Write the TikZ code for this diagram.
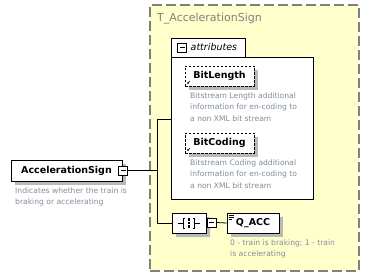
\documentclass[tikz,border=0pt]{standalone}
\usepackage{fontspec}
\setmainfont{DejaVu Sans}
\usetikzlibrary{positioning, shapes.misc, shadows, arrows.meta}
\definecolor{typeyellow}{RGB}{255,255,204}
\definecolor{framegray}{RGB}{128,128,128}
\definecolor{notegray}{RGB}{128,140,155}
\definecolor{shadowgray}{RGB}{185,185,185}

\begin{document}
\begin{tikzpicture}[x=1pt, y=-1pt,
    typebox/.style={rectangle, draw=framegray, fill=typeyellow, line width=1.2pt, dash pattern=on 10pt off 4pt, inner sep=0pt},
    group/.style={rectangle, draw, fill=white, line width=0.9pt, inner sep=0pt},
    element/.style={rectangle, draw, fill=white, line width=0.9pt, inner sep=0pt, minimum height=20pt, font=\fontsize{9.5}{12}\selectfont\bfseries, general shadow={fill=shadowgray, shadow xshift=4pt, shadow yshift=-4pt}},
    attribute/.style={element, line width=0.8pt, dash pattern=on 2.5pt off 1.5pt, minimum width=69pt,
        path picture={\draw[line width=0.6pt, -{Latex[length=2pt,width=2pt]}] ([shift={(5pt,5pt)}]path picture bounding box.south west) -- ([shift={(2pt,2pt)}]path picture bounding box.south west);}},
    note/.style={anchor=north west, align=left, text=notegray, inner sep=0pt, font=\fontsize{7.6}{11.5}\selectfont},
    toggle/.style={rectangle, draw, fill=white, line width=0.8pt, minimum size=9pt, inner sep=0pt,
        path picture={\draw[line width=0.8pt] ([xshift=2pt]path picture bounding box.west) -- ([xshift=-2pt]path picture bounding box.east);}},
    compositor/.style={chamfered rectangle, chamfered rectangle xsep=5pt, draw, fill=white, line width=0.8pt, minimum width=34pt, minimum height=20pt, inner sep=0pt, general shadow={fill=shadowgray, shadow xshift=4pt, shadow yshift=-4pt}},
    link/.style={line width=0.8pt}
]
\useasboundingbox (0,0) rectangle (370,278);

% complex type frame
\node[typebox, minimum width=209pt, minimum height=266pt] (ctype) at (254.5,138) {};
\node[anchor=west, text=framegray, inner sep=0pt, font=\fontsize{11}{13}\selectfont] (ctitle) at (157,19) {T\_AccelerationSign};

% attribute group
\node[group, minimum width=74pt, minimum height=19pt] (attrtab) at (208,47.5) {};
\node[group, minimum width=142pt, minimum height=142pt] (attrs) at (242,128) {};
\node[toggle] (attrmin) at (182,47.5) {};
\node[anchor=west, inner sep=0pt, font=\fontsize{9.5}{11}\selectfont\itshape] (attrlbl) at (190.5,47) {attributes};

\node[attribute] (bitlen) at (219.5,76) {BitLength};
\node[note] (bitlennote) at (190,92.5) {Bitstream Length additional\\information for en-coding to\\a non XML bit stream};
\node[attribute] (bitcod) at (219.5,143) {BitCoding};
\node[note] (bitcodnote) at (190,159.5) {Bitstream Coding additional\\information for en-coding to\\a non XML bit stream};

% root element
\node[element, minimum width=111pt, minimum height=21pt] (accsign) at (66.5,170.5) {AccelerationSign};
\node[toggle] (accmin) at (123,170.5) {};
\node[note] (accnote) at (15,187.5) {Indicates whether the train is\\braking or accelerating};

% sequence with Q_ACC
\node[compositor] (seq) at (189,223) {};
\draw[line width=0.7pt] (seq.center) ++(-11,0) -- ++(6,0) ++(10,0) -- ++(6,0);
\draw[line width=0.7pt] (seq.center) ++(-4,-5) -- ++(-1.5,0) -- ++(0,10) -- ++(1.5,0);
\draw[line width=0.7pt] (seq.center) ++(4,-5) -- ++(1.5,0) -- ++(0,10) -- ++(-1.5,0);
\foreach \dy in {-3.5,0,3.5}
    \fill (seq.center) ++(-1.3,\dy-1.3) rectangle ++(2.6,2.6);
\node[toggle] (seqmin) at (211.5,222.5) {};

\node[element, minimum width=52pt] (qacc) at (253,223) {Q\_ACC};
\draw[line width=0.6pt] (qacc.north west) ++(2,2.5) -- ++(5,0) ++(-5,2) -- ++(5,0) ++(-5,2) -- ++(3,0);
\node[note] (qaccnote) at (230,239.5) {0 - train is braking; 1 - train\\is accelerating};

% connectors
\coordinate (trunk) at (157,170.5);
\coordinate (jtop) at (157,119);
\draw[link] (accmin.east) -- (trunk);
\draw[link] (attrs.west |- jtop) -- (jtop) |- (seq.west);
\draw[link] (seqmin.east) -- (qacc.west);
\end{tikzpicture}
\end{document}
